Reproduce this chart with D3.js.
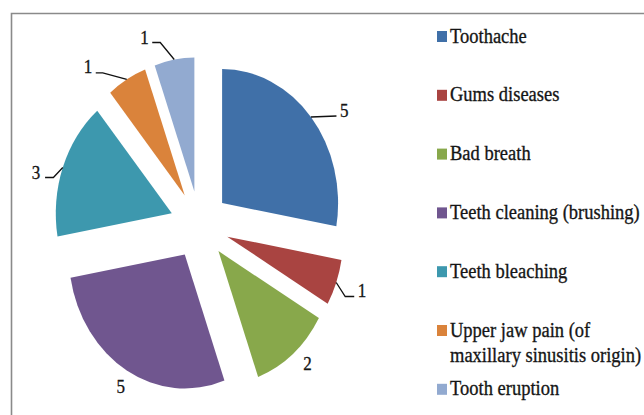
<!DOCTYPE html>
<html>
<head>
<meta charset="utf-8">
<script src="https://cdn.jsdelivr.net/npm/d3@7"></script>
<style>
  html, body { margin: 0; padding: 0; background: #fff; }
  svg { display: block; }
</style>
</head>
<body>
<svg id="chart" width="644" height="415"></svg>
<script>
// ---- data ----
const categories = [
  "Toothache",
  "Gums diseases",
  "Bad breath",
  "Teeth cleaning (brushing)",
  "Teeth bleaching",
  "Upper jaw pain (of\nmaxillary sinusitis origin)",
  "Tooth eruption"
];
const values = [5, 1, 2, 5, 3, 1, 1];
const colors = ["#4070A8", "#A94441", "#88A84B", "#70568F", "#3D98AE", "#DA833B", "#92AAD0"];

// ---- layout (styles / positions) ----
const W = 644, H = 415;
const FONT = "'Liberation Serif', 'DejaVu Serif', 'Times New Roman', serif";
const TEXT_STRETCH = 1.08;
const cx = 199.5, cy = 225;
const R = 116;          // horizontal radius
const yStretch = 1.155; // vertical stretch of the pie
const explode = 29.5;
const labelLayout = [
  { dx: 29, dy: 0, anchor: "start", leader: [[25.5, -1]] },
  { dx: 21.5, dy: 14.5, anchor: "start", leader: [[9, 14], [18, 14]] },
  { dx: 14.5, dy: 16.5, anchor: "middle", leader: [] },
  { dx: -6, dy: 22.5, anchor: "middle", leader: [] },
  { dx: -22.5, dy: 11, anchor: "end", leader: [[-9.4, 10], [-17.7, 10]] },
  { dx: -34.5, dy: -6, anchor: "end", leader: [[-24, -6.5], [-31, -6.5]] },
  { dx: -25.5, dy: -16, anchor: "end", leader: [[-14, -17], [-22, -17]] }
];

const svg = d3.select("#chart");

svg.append("path")
  .attr("d", `M11.5,${H + 2} L11.5,13.5 L${W + 2},13.5`)
  .attr("fill", "none")
  .attr("stroke", "#8a8a8a")
  .attr("stroke-width", 1.6);

const pie = d3.pie().sort(null).value(d => d)
  .startAngle(0).endAngle(2 * Math.PI);
const arcs = pie(values);
const arc = d3.arc().innerRadius(0).outerRadius(R);

const g = svg.append("g")
  .attr("transform", `translate(${cx},${cy}) scale(1,${yStretch})`);

g.selectAll("path.slice")
  .data(arcs)
  .enter().append("path")
  .attr("class", "slice")
  .attr("d", arc)
  .attr("fill", (d, i) => colors[i])
  .attr("transform", d => {
    const m = (d.startAngle + d.endAngle) / 2;
    return `translate(${explode * Math.sin(m)},${-explode * Math.cos(m)})`;
  });

function styledText(sel, size) {
  return sel.attr("font-family", FONT)
    .attr("font-size", size)
    .attr("fill", "#151515")
    .attr("stroke", "#151515")
    .attr("stroke-width", 0.3);
}

arcs.forEach((d, i) => {
  const m = (d.startAngle + d.endAngle) / 2;
  const ax = cx + (explode + R) * Math.sin(m);
  const ay = cy - (explode + R) * Math.cos(m) * yStretch;
  const L = labelLayout[i];
  if (L.leader.length) {
    const pts = [[ax, ay]].concat(L.leader.map(p => [ax + p[0], ay + p[1]]));
    svg.append("path")
      .attr("d", d3.line()(pts))
      .attr("fill", "none")
      .attr("stroke", "#111")
      .attr("stroke-width", 1.3);
  }
  styledText(svg.append("text")
    .attr("transform", `translate(${ax + L.dx},${ay + L.dy}) scale(1,${TEXT_STRETCH})`)
    .attr("text-anchor", L.anchor), 17)
    .text(values[i]);
});

const legX = 437, legTextX = 450, legY0 = 42.5, legStep = 58.8;
categories.forEach((c, i) => {
  const by = legY0 + i * legStep;
  svg.append("rect")
    .attr("x", legX).attr("y", by - 11.5)
    .attr("width", 10).attr("height", 11)
    .attr("fill", colors[i]);
  const t = styledText(svg.append("text")
    .attr("transform", `translate(${legTextX},${by}) scale(1,${TEXT_STRETCH})`), 18.5);
  c.split("\n").forEach((line, j) => {
    t.append("tspan")
      .attr("x", 0)
      .attr("dy", j === 0 ? 0 : 25.5 / TEXT_STRETCH)
      .text(line);
  });
});
</script>
</body>
</html>
